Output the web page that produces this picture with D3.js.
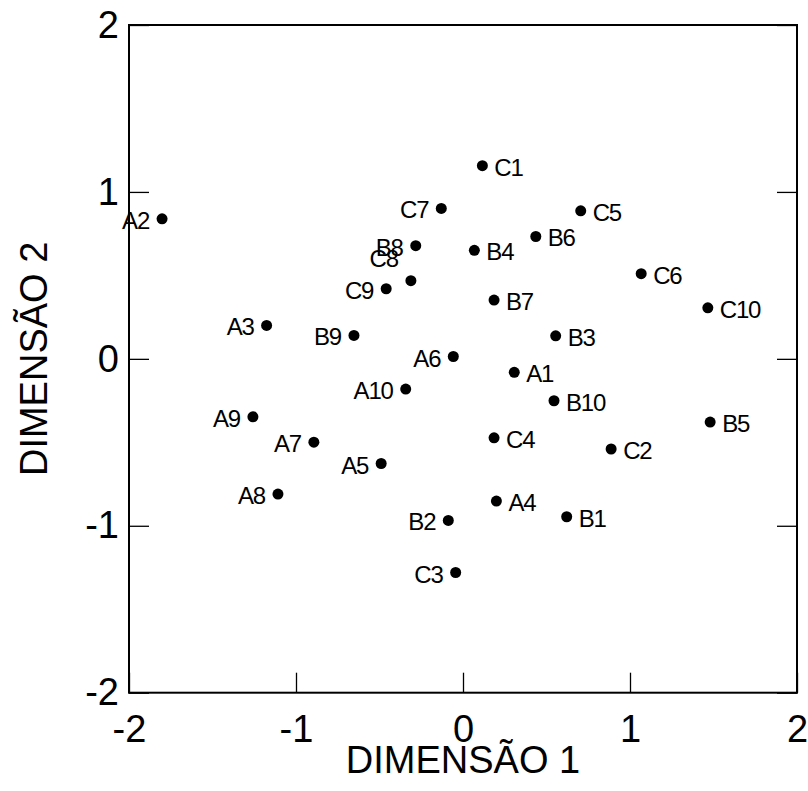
<!DOCTYPE html>
<html>
<head>
<meta charset="utf-8">
<script src="https://cdn.jsdelivr.net/npm/d3@7"></script>
<style>
  html, body { margin: 0; padding: 0; background: #fff; }
  svg { display: block; font-family: "Liberation Sans", Arial, sans-serif; }
</style>
</head>
<body>
<svg id="chart" width="808" height="791"></svg>
<script>
// ---- data ----
const labels = ["A1","A2","A3","A4","A5","A6","A7","A8","A9","A10",
                "B1","B2","B3","B4","B5","B6","B7","B8","B9","B10",
                "C1","C2","C3","C4","C5","C6","C7","C8","C9","C10"];
const dim1 = [0.307,-1.802,-1.176,0.200,-0.490,-0.058,-0.893,-1.108,-1.258,-0.343,
              0.621,-0.088,0.555,0.068,1.480,0.436,0.186,-0.283,-0.653,0.545,
              0.116,0.887,-0.044,0.186,0.705,1.067,-0.130,-0.312,-0.460,1.466];
const dim2 = [-0.081,0.839,0.200,-0.852,-0.627,0.014,-0.499,-0.810,-0.347,-0.181,
              -0.946,-0.968,0.138,0.650,-0.379,0.733,0.352,0.678,0.140,-0.251,
              1.157,-0.540,-1.280,-0.473,0.887,0.510,0.901,0.468,0.420,0.306];
// which side of its point each label is written on
const labelSide = ["R","L","L","R","L","L","L","L","L","L",
                   "R","L","R","R","R","R","R","L","L","R",
                   "R","R","L","R","R","R","L","L","L","R"];
const tickValues = [-2,-1,0,1,2];
const xTitle = "DIMENSÃO 1";
const yTitle = "DIMENSÃO 2";

// ---- layout ----
const svg = d3.select("#chart");
const mLeft = 129, mRight = 797, mTop = 25, mBottom = 692.7;
const x = d3.scaleLinear().domain([-2,2]).range([mLeft,mRight]);
const y = d3.scaleLinear().domain([-2,2]).range([mBottom,mTop]);

const points = labels.map((l,i)=>({label:l, x:dim1[i], y:dim2[i], side:labelSide[i]}));

// frame
svg.append("rect")
  .attr("x", mLeft).attr("y", mTop)
  .attr("width", mRight-mLeft).attr("height", mBottom-mTop)
  .attr("fill","none").attr("stroke","#000").attr("stroke-width",2);

const fmt = d => String(d);

function styleAxis(g, fontSize){
  g.select(".domain").remove();
  g.selectAll(".tick line").attr("stroke","#000").attr("stroke-width",1.3);
  g.selectAll(".tick text").attr("fill","#000")
    .style("font-family","'Liberation Sans', Arial, sans-serif")
    .style("font-size", fontSize+"px");
}

svg.append("g").attr("transform",`translate(0,${mBottom})`)
  .call(d3.axisBottom(x).tickValues(tickValues).tickFormat(fmt).tickSizeInner(-20).tickSizeOuter(0).tickPadding(22))
  .call(g=>styleAxis(g,38));

svg.append("g").attr("transform",`translate(${mLeft},0)`)
  .call(d3.axisLeft(y).tickValues(tickValues).tickFormat(fmt).tickSizeInner(-20).tickSizeOuter(0).tickPadding(10))
  .call(g=>styleAxis(g,38));

svg.append("g").attr("transform",`translate(${mRight},0)`)
  .call(d3.axisRight(y).tickValues(tickValues).tickFormat("").tickSizeInner(-20).tickSizeOuter(0))
  .call(g=>styleAxis(g,38));

// axis titles
svg.append("text")
  .attr("x",(mLeft+mRight)/2).attr("y",773)
  .attr("text-anchor","middle")
  .style("font-size","38px").attr("fill","#000")
  .text(xTitle);

svg.append("text")
  .attr("transform",`translate(46.5,${(mTop+mBottom)/2}) rotate(-90)`)
  .attr("text-anchor","middle")
  .style("font-size","38px").attr("fill","#000")
  .text(yTitle);

// points
svg.append("g").selectAll("circle").data(points).join("circle")
  .attr("cx",d=>x(d.x)).attr("cy",d=>y(d.y)).attr("r",5.5).attr("fill","#000");

// labels
svg.append("g").selectAll("text").data(points).join("text")
  .attr("x",d=> d.side==="R" ? x(d.x)+12 : x(d.x)-13)
  .attr("y",d=> y(d.y) + (d.label==="C8" ? -14 : 10))
  .attr("text-anchor",d=> d.side==="R" ? "start" : "end")
  .style("font-size","24px").style("letter-spacing","-1.2px")
  .attr("fill","#000")
  .text(d=>d.label);
</script>
</body>
</html>
